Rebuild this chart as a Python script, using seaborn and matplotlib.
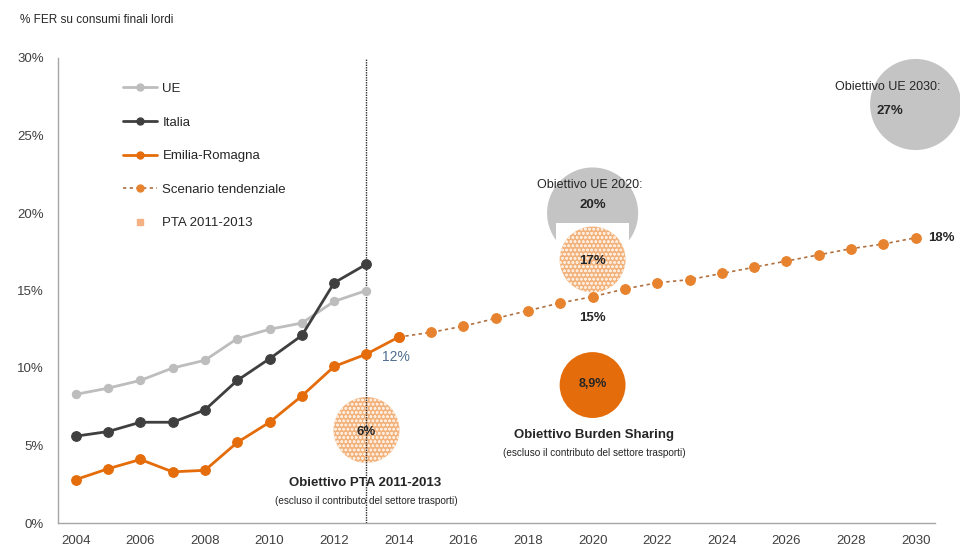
import matplotlib
matplotlib.use("Agg")
import matplotlib.pyplot as plt
import seaborn as sns
import pandas as pd
from matplotlib.lines import Line2D

# ---- data ----
years_hist = list(range(2004, 2014))
ue = [8.3, 8.7, 9.2, 10.0, 10.5, 11.9, 12.5, 12.9, 14.3, 15.0]
italia = [5.6, 5.9, 6.5, 6.5, 7.3, 9.2, 10.6, 12.1, 15.5, 16.7]
years_er = list(range(2004, 2015))
emilia = [2.8, 3.5, 4.1, 3.3, 3.4, 5.2, 6.5, 8.2, 10.1, 10.9, 12.0]
years_scen = list(range(2014, 2031))
scenario = [12.0, 12.3, 12.7, 13.2, 13.7, 14.2, 14.6, 15.1, 15.5, 15.7,
            16.1, 16.5, 16.9, 17.3, 17.7, 18.0, 18.4]

target_names = ["UE 2030", "UE 2020", "PTA 2020", "Burden Sharing", "PTA 2011-2013"]
target_years = [2030, 2020, 2020, 2020, 2013]
target_values = [27, 20, 17, 8.9, 6]
target_labels = ["27%", "20%", "17%", "8,9%", "6%"]

xtick_years = list(range(2004, 2031, 2))
ytick_values = [0, 5, 10, 15, 20, 25, 30]
ytick_labels = ["0%", "5%", "10%", "15%", "20%", "25%", "30%"]

legend_labels = ["UE", "Italia", "Emilia-Romagna", "Scenario tendenziale", "PTA 2011-2013"]

# ---- style ----
sns.set_style("white")
plt.rcParams["font.family"] = ["Liberation Sans", "DejaVu Sans"]
plt.rcParams["hatch.linewidth"] = 0.7

C_UE = "#bdbdbd"
C_IT = "#3f3f3f"
C_ER = "#e46c0a"
C_SC = "#e7832f"
C_PTA = "#f4b183"
C_GRAY_BUB = "#c4c4c4"
TXT = "#262626"

fig = plt.figure(figsize=(9.6, 5.47), dpi=100)
ax = fig.add_axes([58 / 960, 1 - 523 / 547, (935 - 58) / 960, (523 - 58) / 547])

df_t = pd.DataFrame({"name": target_names, "year": target_years,
                     "value": target_values, "label": target_labels})

# gray target bubbles
gray = df_t[df_t["name"].isin(["UE 2030", "UE 2020"])]
sns.scatterplot(data=gray, x="year", y="value", ax=ax, s=4300, color=C_GRAY_BUB,
                edgecolor="none", linewidth=0, zorder=1, legend=False, clip_on=False)
# white square behind 17% bubble
w = df_t[df_t["name"] == "PTA 2020"]
sns.scatterplot(data=w, x="year", y="value", ax=ax, s=2750, marker="s", color="white",
                edgecolor="none", linewidth=0, zorder=2, legend=False)
# dotted PTA bubbles
dot = df_t[df_t["name"].isin(["PTA 2020", "PTA 2011-2013"])]
sns.scatterplot(data=dot, x="year", y="value", ax=ax, s=2250, facecolor="#f2b27c",
                edgecolor="#fdebdc", linewidth=0, hatch="oooo", zorder=3, legend=False)
# burden sharing bubble
bs = df_t[df_t["name"] == "Burden Sharing"]
sns.scatterplot(data=bs, x="year", y="value", ax=ax, s=2250, color=C_ER,
                edgecolor="none", linewidth=0, zorder=3, legend=False)

# vertical line at 2013
ax.axvline(2013, color="#303030", lw=1.0, ls=(0, (1, 0.8)), zorder=4)

# series
df_ue = pd.DataFrame({"year": years_hist, "value": ue})
df_it = pd.DataFrame({"year": years_hist, "value": italia})
df_er = pd.DataFrame({"year": years_er, "value": emilia})
df_sc = pd.DataFrame({"year": years_scen, "value": scenario})

sns.lineplot(data=df_ue, x="year", y="value", ax=ax, color=C_UE, lw=2, marker="o",
             markersize=6, markeredgecolor=C_UE, zorder=5)
sns.lineplot(data=df_it, x="year", y="value", ax=ax, color=C_IT, lw=2, marker="o",
             markersize=7, markeredgecolor=C_IT, zorder=6)
sns.lineplot(data=df_sc, x="year", y="value", ax=ax, color="#b07040", lw=1.2,
             ls=(0, (2, 2)), marker="o", markersize=7, markerfacecolor=C_SC,
             markeredgecolor=C_SC, zorder=5)
sns.lineplot(data=df_er, x="year", y="value", ax=ax, color=C_ER, lw=2, marker="o",
             markersize=7, markeredgecolor=C_ER, zorder=6)

# axes
ax.set_xlim(2003.45, 2030.6)
ax.set_ylim(0, 30)
ax.set_xticks(xtick_years)
ax.set_xticklabels([str(y) for y in xtick_years])
ax.set_xticks(list(range(2004, 2031)), minor=True)
ax.set_yticks(ytick_values)
ax.set_yticklabels(ytick_labels)
ax.set_xlabel("")
ax.set_ylabel("")
for s in ["top", "right"]:
    ax.spines[s].set_visible(False)
for s in ["left", "bottom"]:
    ax.spines[s].set_color("#a6a6a6")
    ax.spines[s].set_linewidth(1)
ax.tick_params(axis="both", which="both", colors="#a6a6a6", labelcolor="#404040",
               labelsize=9.5, direction="inout")
ax.tick_params(axis="x", which="major", length=5, pad=6)
ax.tick_params(axis="x", which="minor", length=5)
ax.tick_params(axis="y", length=4, pad=8)

# annotations
kw = dict(ha="center", va="center", color=TXT)
ax.text(2029.15, 28.1, "Obiettivo UE 2030:", fontsize=9, **kw)
ax.text(2029.2, 26.6, "27%", fontsize=9.5, fontweight="bold", **kw)
ax.text(2019.9, 21.8, "Obiettivo UE 2020:", fontsize=9, **kw)
ax.text(2020, 20.5, "20%", fontsize=9.5, fontweight="bold", **kw)
ax.text(2020, 16.9, "17%", fontsize=9.5, fontweight="bold", **kw)
ax.text(2020, 13.2, "15%", fontsize=9.5, fontweight="bold", **kw)
ax.text(2030.4, 18.4, "18%", fontsize=9.5, fontweight="bold", ha="left", va="center", color=TXT)
ax.text(2020, 8.95, "8,9%", fontsize=9, fontweight="bold", **kw)
ax.text(2013, 5.9, "6%", fontsize=9.5, fontweight="bold", **kw)
ax.text(2013.9, 10.7, "12%", fontsize=10, ha="center", va="center", color="#4f6f8f")
ax.text(2012.95, 2.6, "Obiettivo PTA 2011-2013", fontsize=9.5, fontweight="bold", **kw)
ax.text(2013.0, 1.4, "(escluso il contributo del settore trasporti)", fontsize=7.2, **kw)
ax.text(2020.05, 5.7, "Obiettivo Burden Sharing", fontsize=9.5, fontweight="bold", **kw)
ax.text(2020.05, 4.5, "(escluso il contributo del settore trasporti)", fontsize=7.2, **kw)

fig.text(20 / 960, 1 - 20 / 547, "% FER su consumi finali lordi", fontsize=8.5,
         ha="left", va="center", color=TXT)

# legend
handles = [
    Line2D([], [], color=C_UE, lw=2, marker="o", markersize=5),
    Line2D([], [], color=C_IT, lw=2, marker="o", markersize=5),
    Line2D([], [], color=C_ER, lw=2, marker="o", markersize=5),
    Line2D([], [], color="#b07040", lw=1.2, ls=(0, (2, 2)), marker="o", markersize=5,
           markerfacecolor=C_SC, markeredgecolor=C_SC),
    Line2D([], [], color="none", marker="s", markersize=5, markerfacecolor=C_PTA,
           markeredgecolor=C_PTA),
]
leg = ax.legend(handles, legend_labels, loc="upper left", bbox_to_anchor=(0.068, 0.958),
                frameon=False, fontsize=9.5, handlelength=2.6, handletextpad=0.4,
                labelspacing=1.62, borderaxespad=0)
for t in leg.get_texts():
    t.set_color(TXT)

fig.savefig("out.png", dpi=100)
